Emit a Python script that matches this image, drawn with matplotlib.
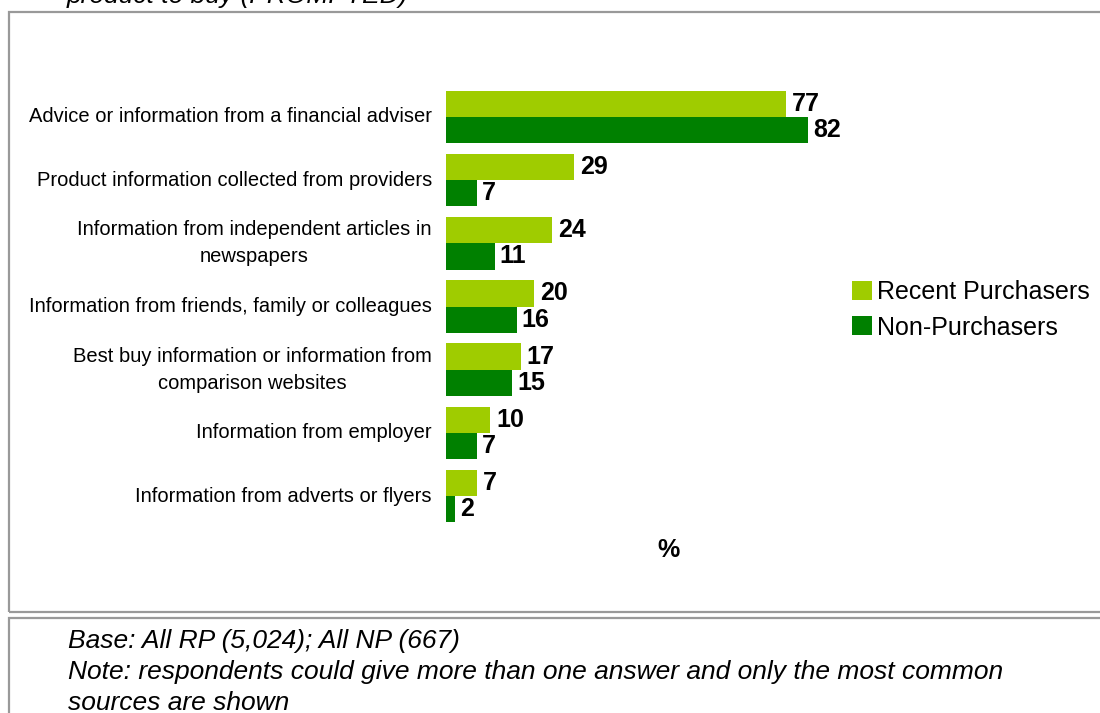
import matplotlib.pyplot as plt
from matplotlib.patches import Rectangle

# === DATA ===
sources = [
    "Advice or information from a financial adviser",
    "Product information collected from providers",
    "Information from independent articles in\nnewspapers",
    "Information from friends, family or colleagues",
    "Best buy information or information from\ncomparison websites",
    "Information from employer",
    "Information from adverts or flyers",
]
recent_purchasers = [77, 29, 24, 20, 17, 10, 7]
non_purchasers = [82, 7, 11, 16, 15, 7, 2]
series_names = ["Recent Purchasers", "Non-Purchasers"]

LIGHT = "#9FCC00"
DARK = "#008000"
BORDER = "#999999"

plt.rcParams['font.family'] = ['Liberation Sans', 'DejaVu Sans']

W, H = 1100, 713
fig = plt.figure(figsize=(W / 100, H / 100), dpi=100)

# pixel helper -> figure fraction
def fx(px):
    return px / W

def fy(py):
    return 1 - py / H

# === Frames ===
fig.patches.append(Rectangle((fx(9), fy(612)), fx(1200), fy(12) - fy(612),
                             transform=fig.transFigure, fill=False,
                             edgecolor=BORDER, linewidth=1.6))
fig.patches.append(Rectangle((fx(9), fy(760)), fx(1200), fy(618) - fy(760),
                             transform=fig.transFigure, fill=False,
                             edgecolor=BORDER, linewidth=1.6))

# === Bars ===
ax = fig.add_axes([fx(446), fy(553), fx(441.5), (553 - 60) / H])
ax.set_xlim(0, 100)
ax.set_ylim(6.9, -0.9)
ax.axis('off')

bh = 0.416
ys = list(range(len(sources)))
ax.barh([y - bh / 2 for y in ys], recent_purchasers, height=bh, color=LIGHT,
        label=series_names[0])
ax.barh([y + bh / 2 for y in ys], non_purchasers, height=bh, color=DARK,
        label=series_names[1])

for y, rp, npv in zip(ys, recent_purchasers, non_purchasers):
    ax.text(rp + 1.3, y - bh / 2, str(rp), va='center', ha='left',
            fontsize=18, fontweight='bold')
    ax.text(npv + 1.1, y + bh / 2, str(npv), va='center', ha='left',
            fontsize=18, fontweight='bold')

for y, lab in zip(ys, sources):
    ax.text(-3.2, y, lab, ha='right', va='center', multialignment='center',
            fontsize=14.5, linespacing=1.55)

fig.text(fx(668), fy(550), "%", ha='center', va='center', fontsize=18,
         fontweight='bold')

fig.legend(loc='center left', bbox_to_anchor=(fx(852), fy(310)),
           frameon=False, fontsize=18, handlelength=0.8, handleheight=0.8,
           handletextpad=0.2, labelspacing=0.45, borderaxespad=0,
           borderpad=0)

# === Title remnant and footnotes ===
fig.text(fx(67), fy(3), "product to buy (PROMPTED)", style='italic',
         fontsize=19, va='baseline', ha='left')
notes = ["Base: All RP (5,024); All NP (667)",
         "Note: respondents could give more than one answer and only the most common",
         "sources are shown"]
for i, line in enumerate(notes):
    fig.text(fx(68), fy(641 + 31 * i), line, style='italic', fontsize=19,
             va='center', ha='left')

fig.savefig("out.png", dpi=100)
